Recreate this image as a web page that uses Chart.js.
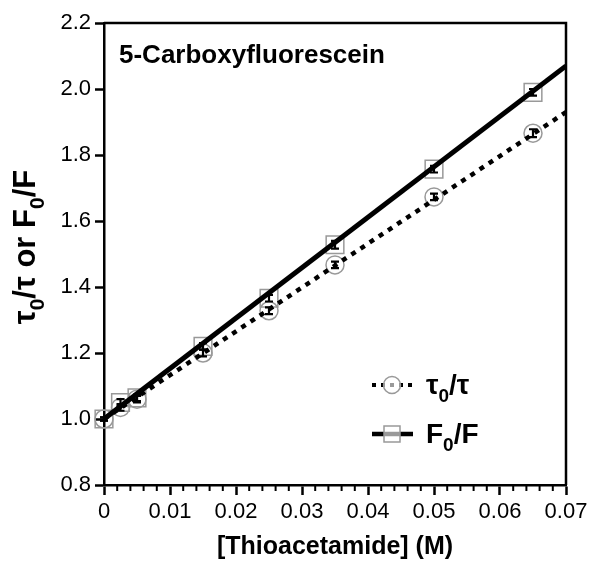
<!DOCTYPE html>
<html lang="en">
<head>
  <meta charset="UTF-8" />
  <title>Thioacetamide quenching</title>
  <script src="https://cdn.jsdelivr.net/npm/chart.js"></script>
  <style>
    body { margin: 0; padding: 0; background: #fff; }
    .chart-box { width: 604px; height: 573px; position: relative; }
  </style>
</head>
<body>
  <div class="chart-box">
    <canvas id="quenchChart"></canvas>
  </div>

  <script>
    // measured points
    const conc = [0, 0.0025, 0.005, 0.015, 0.025, 0.035, 0.05, 0.065];
    const tauRatio = [1.0, 1.035, 1.06, 1.2, 1.328, 1.467, 1.673, 1.866];
    const tauErr = [0.005, 0.01, 0.01, 0.01, 0.01, 0.01, 0.01, 0.012];
    const fluoRatio = [1.0, 1.05, 1.064, 1.22, 1.366, 1.528, 1.757, 1.99];
    const fluoErr = [0.005, 0.01, 0.01, 0.01, 0.01, 0.012, 0.01, 0.01];

    // linear fits (end points)
    const fitX = [0, 0.07];
    const fitTau = [1.0, 1.93];
    const fitFluo = [1.0, 2.07];

    const xTicks = [0, 0.01, 0.02, 0.03, 0.04, 0.05, 0.06, 0.07];
    const yTicks = [0.8, 1.0, 1.2, 1.4, 1.6, 1.8, 2.0, 2.2];

    const pts = (xs, ys) => xs.map((x, i) => ({ x: x, y: ys[i] }));

    // draws text with subscript parts at the current origin
    function drawRich(ctx, parts, size, align) {
      const big = 'bold ' + size + 'px "Liberation Sans", Arial, sans-serif';
      const small = 'bold ' + Math.round(size * 0.68) + 'px "Liberation Sans", Arial, sans-serif';
      let total = 0;
      parts.forEach(p => { ctx.font = p.sub ? small : big; total += ctx.measureText(p.t).width; });
      let x = align === 'left' ? 0 : -total / 2;
      ctx.textAlign = 'left';
      ctx.textBaseline = 'alphabetic';
      parts.forEach(p => {
        ctx.font = p.sub ? small : big;
        ctx.fillText(p.t, x, p.sub ? size * 0.28 : 0);
        x += ctx.measureText(p.t).width;
      });
    }

    const extras = {
      id: 'extras',
      afterDatasetsDraw(chart) {
        const ctx = chart.ctx;
        const xs = chart.scales.x, ys = chart.scales.y;
        const a = chart.chartArea;
        ctx.save();
        ctx.strokeStyle = '#000';
        ctx.fillStyle = '#000';

        // error bars
        ctx.lineWidth = 2.2;
        [[tauRatio, tauErr], [fluoRatio, fluoErr]].forEach(([vals, errs]) => {
          conc.forEach((c, i) => {
            const px = xs.getPixelForValue(c);
            const top = ys.getPixelForValue(vals[i] + errs[i]);
            const bot = ys.getPixelForValue(vals[i] - errs[i]);
            ctx.beginPath();
            ctx.moveTo(px, top); ctx.lineTo(px, bot);
            ctx.moveTo(px - 4, top); ctx.lineTo(px + 4, top);
            ctx.moveTo(px - 4, bot); ctx.lineTo(px + 4, bot);
            ctx.stroke();
          });
        });

        // box
        ctx.lineWidth = 2.5;
        ctx.beginPath();
        ctx.moveTo(a.left, a.top); ctx.lineTo(a.right, a.top); ctx.lineTo(a.right, a.bottom);
        ctx.stroke();

        // minor x ticks
        ctx.lineWidth = 2;
        for (let i = 1; i < 35; i++) {
          if (i % 5 === 0) continue;
          const px = xs.getPixelForValue(i * 0.002);
          ctx.beginPath();
          ctx.moveTo(px, a.bottom); ctx.lineTo(px, a.bottom + 6);
          ctx.stroke();
        }

        // panel label
        ctx.font = 'bold 26px "Liberation Sans", Arial, sans-serif';
        ctx.textAlign = 'left';
        ctx.textBaseline = 'alphabetic';
        ctx.fillText('5-Carboxyfluorescein', 119, 63);

        // x title
        ctx.font = 'bold 25px "Liberation Sans", Arial, sans-serif';
        ctx.textAlign = 'center';
        ctx.fillText('[Thioacetamide] (M)', 335, 554);

        // y title
        ctx.save();
        ctx.translate(35, 247);
        ctx.rotate(-Math.PI / 2);
        drawRich(ctx, [
          { t: 'τ' }, { t: '0', sub: true }, { t: '/τ or F' }, { t: '0', sub: true }, { t: '/F' }
        ], 31, 'center');
        ctx.restore();

        // legend
        const rows = [
          { y: 385, dash: [4, 5], style: 'circle', parts: [{ t: 'τ' }, { t: '0', sub: true }, { t: '/τ' }] },
          { y: 434, dash: [], style: 'rect', parts: [{ t: 'F' }, { t: '0', sub: true }, { t: '/F' }] }
        ];
        rows.forEach(r => {
          ctx.strokeStyle = '#000';
          ctx.lineWidth = r.dash.length ? 4 : 4.5;
          ctx.setLineDash(r.dash);
          ctx.beginPath();
          ctx.moveTo(372, r.y); ctx.lineTo(413, r.y);
          ctx.stroke();
          ctx.setLineDash([]);
          ctx.strokeStyle = '#999';
          ctx.lineWidth = 1.5;
          ctx.fillStyle = 'rgba(255,255,255,0.6)';
          ctx.beginPath();
          if (r.style === 'circle') ctx.arc(392, r.y, 8.5, 0, Math.PI * 2);
          else ctx.rect(384, r.y - 8, 16, 16);
          ctx.fill();
          ctx.stroke();
          ctx.fillStyle = '#000';
          ctx.save();
          ctx.translate(426, r.y + 9);
          drawRich(ctx, r.parts, 28, 'left');
          ctx.restore();
        });
        ctx.restore();
      }
    };

    new Chart('quenchChart', {
      type: 'scatter',
      data: {
        datasets: [
          {
            label: 'F0/F fit', type: 'line', data: pts(fitX, fitFluo),
            borderColor: '#000', borderWidth: 5, pointRadius: 0, showLine: true, order: 1
          },
          {
            label: 'tau0/tau fit', type: 'line', data: pts(fitX, fitTau),
            borderColor: '#000', borderWidth: 4.5, borderDash: [5, 6], pointRadius: 0, showLine: true, order: 2
          },
          {
            label: 'F0/F', data: pts(conc, fluoRatio), pointStyle: 'rect', clip: false,
            pointRadius: 12.5, pointBorderColor: '#999', pointBackgroundColor: 'rgba(0,0,0,0)',
            pointBorderWidth: 1.5, order: 3
          },
          {
            label: 'tau0/tau', data: pts(conc, tauRatio), pointStyle: 'circle', clip: false,
            pointRadius: 9, pointBorderColor: '#999', pointBackgroundColor: 'rgba(0,0,0,0)',
            pointBorderWidth: 1.5, order: 4
          }
        ]
      },
      options: {
        responsive: true,
        maintainAspectRatio: false,
        animation: false,
        layout: { padding: { top: 23, right: 38, bottom: 0, left: 0 } },
        plugins: { legend: { display: false }, tooltip: { enabled: false } },
        scales: {
          x: {
            type: 'linear', min: 0, max: 0.07,
            afterBuildTicks: s => { s.ticks = xTicks.map(v => ({ value: v })); },
            afterFit: s => { s.height = 88; },
            ticks: {
              color: '#000', padding: 4,
              font: { family: '"Liberation Sans", Arial, sans-serif', size: 22 },
              callback: v => v === 0 ? '0' : v.toFixed(2)
            },
            grid: { drawOnChartArea: false, drawTicks: true, tickLength: 10, tickWidth: 2.5, tickColor: '#000' },
            border: { color: '#000', width: 2.5 }
          },
          y: {
            type: 'linear', min: 0.8, max: 2.2,
            afterBuildTicks: s => { s.ticks = yTicks.map(v => ({ value: v })); },
            afterFit: s => { s.width = 104; },
            ticks: {
              color: '#000', padding: 4,
              font: { family: '"Liberation Sans", Arial, sans-serif', size: 22 },
              callback: v => v.toFixed(1)
            },
            grid: { drawOnChartArea: false, drawTicks: true, tickLength: 9, tickWidth: 2.5, tickColor: '#000' },
            border: { color: '#000', width: 2.5 }
          }
        }
      },
      plugins: [extras]
    });
  </script>
</body>
</html>
